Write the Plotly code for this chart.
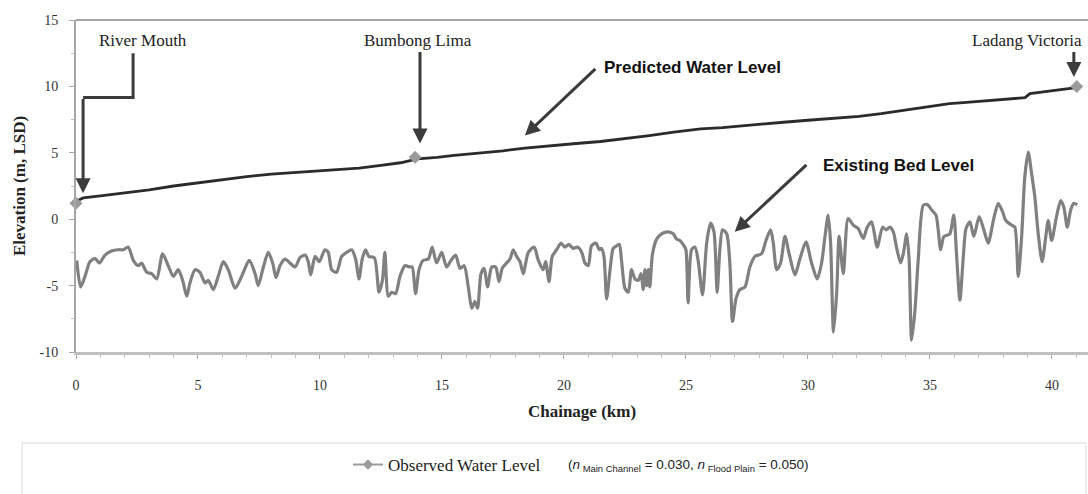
import plotly.graph_objects as go

# Longitudinal profile along the river (chainage in km, elevation in m LSD)
pred_chainage = [0, 0.3, 1, 2, 3, 4, 5, 6, 7, 8, 8.4, 9, 10, 11, 11.6, 12.5, 13.3, 14,
                 14.8, 15.5, 16.5, 17.5, 18.4, 19.5, 20.5, 21.5, 22.7, 23.5, 24.5, 25.6,
                 26.5, 27.2, 28, 29, 30, 31, 32.1, 33, 34, 35, 35.8, 36.5, 37.5, 38.5,
                 38.9, 39.1, 40, 41]
pred_level = [1.35, 1.6, 1.75, 1.95, 2.2, 2.5, 2.75, 3.0, 3.2, 3.4, 3.45, 3.5, 3.65, 3.75,
              3.85, 4.05, 4.25, 4.55, 4.65, 4.8, 4.95, 5.15, 5.35, 5.55, 5.7, 5.85, 6.1,
              6.3, 6.55, 6.8, 6.9, 7.0, 7.1, 7.3, 7.45, 7.6, 7.75, 7.95, 8.2, 8.45, 8.7,
              8.8, 8.95, 9.1, 9.15, 9.45, 9.65, 9.9]

bed_chainage = [0.03, 0.19, 0.37, 0.57, 0.78, 0.96, 1.19, 1.46, 1.73, 1.94, 2.14, 2.35, 2.55,
                2.69, 2.9, 3.1, 3.31, 3.55, 3.78, 3.99, 4.19, 4.37, 4.54, 4.67, 4.88, 5.08,
                5.29, 5.42, 5.63, 5.83, 6.04, 6.24, 6.52, 6.79, 7.1, 7.34, 7.47, 7.68, 7.88,
                8.06, 8.2, 8.36, 8.57, 8.77, 8.98, 9.18, 9.39, 9.52, 9.62, 9.8, 9.97, 10.2,
                10.34, 10.48, 10.68, 10.89, 11.09, 11.3, 11.46, 11.6, 11.73, 11.87, 12.0,
                12.23, 12.42, 12.56, 12.66, 12.8, 12.94, 13.1, 13.28, 13.48, 13.69, 13.78,
                13.92, 14.06, 14.23, 14.44, 14.6, 14.78, 14.99, 15.19, 15.37, 15.56, 15.74,
                15.91, 16.08, 16.22, 16.35, 16.46, 16.6, 16.73, 16.87, 17.04, 17.2, 17.34,
                17.47, 17.65, 17.79, 17.92, 18.06, 18.2, 18.33, 18.54, 18.78, 18.95, 19.15,
                19.25, 19.39, 19.52, 19.7, 19.88, 20.04, 20.2, 20.38, 20.56, 20.73, 20.86,
                21.0, 21.13, 21.31, 21.45, 21.54, 21.64, 21.75, 21.89, 22.02, 22.16, 22.27,
                22.36, 22.5, 22.64, 22.77, 22.91, 23.05, 23.16, 23.25, 23.32, 23.39, 23.46,
                23.52, 23.63, 23.8, 24.0, 24.28, 24.48, 24.62, 24.75, 24.92, 25.0, 25.09,
                25.23, 25.37, 25.5, 25.68, 25.85, 26.01, 26.15, 26.28, 26.39, 26.5, 26.67,
                26.8, 26.91, 27.05, 27.21, 27.42, 27.62, 27.83, 28.1, 28.28, 28.47, 28.58,
                28.72, 28.88, 29.06, 29.23, 29.47, 29.67, 29.92, 30.15, 30.38, 30.56, 30.7,
                30.83, 30.93, 31.05, 31.18, 31.28, 31.45, 31.65, 31.86, 32.06, 32.27, 32.43,
                32.61, 32.84, 33.06, 33.2, 33.36, 33.5, 33.63, 33.8, 33.91, 34.05, 34.15,
                34.25, 34.39, 34.52, 34.73, 34.89, 35.07, 35.25, 35.34, 35.44, 35.57, 35.71,
                35.82, 35.98, 36.09, 36.23, 36.37, 36.48, 36.64, 36.8, 37.02, 37.21, 37.39,
                37.6, 37.8, 37.98, 38.11, 38.35, 38.48, 38.62, 38.76, 38.89, 39.03, 39.17,
                39.3, 39.44, 39.6, 39.75, 39.85, 39.99, 40.19, 40.36, 40.49, 40.63, 40.77,
                40.9, 41.04]
bed_level = [-3.1, -5.1, -4.3, -3.2, -2.96, -3.3, -2.7, -2.4, -2.3, -2.3, -2.1, -3.1, -3.5,
             -3.3, -4.0, -4.1, -4.5, -2.6, -3.5, -4.3, -3.8, -4.6, -5.8, -4.8, -3.8, -4.0,
             -4.8, -4.6, -5.3, -4.3, -3.2, -3.8, -5.2, -4.3, -3.1, -4.1, -5.0, -3.6, -2.5,
             -3.3, -4.4, -3.5, -3.0, -3.3, -3.6, -2.9, -2.7, -3.2, -4.2, -2.8, -3.2, -2.3,
             -2.5, -3.8, -4.0, -2.8, -2.5, -2.3, -3.0, -4.5, -3.0, -2.3, -2.8, -2.9, -5.5,
             -4.6, -2.5, -5.8, -5.5, -5.6, -4.3, -3.5, -3.6, -3.6, -5.6, -3.8, -3.1, -3.0,
             -2.1, -3.3, -2.5, -3.6, -3.1, -2.7, -3.7, -3.5, -5.1, -6.7, -6.2, -6.7, -4.1,
             -3.7, -5.1, -3.6, -3.6, -4.7, -3.7, -3.3, -3.0, -2.3, -2.8, -3.2, -4.1, -2.5,
             -2.1, -3.1, -3.8, -3.2, -4.7, -2.8, -2.3, -1.8, -2.1, -1.9, -2.2, -2.1, -2.5,
             -3.3, -3.5, -2.0, -1.8, -2.3, -2.2, -2.8, -6.0, -3.8, -2.2, -2.0, -1.9, -3.1,
             -5.2, -5.5, -3.8, -4.5, -4.6, -4.1, -5.3, -3.8, -5.0, -3.8, -5.1, -2.6, -1.5,
             -1.1, -0.95, -1.1, -1.5, -1.6, -2.0, -2.3, -6.3, -2.3, -2.1, -3.1, -5.7, -1.8,
             -0.3, -0.95, -5.5, -2.3, -0.8, -1.1, -3.3, -7.7, -6.0, -5.3, -5.1, -3.6, -2.8,
             -2.6, -1.6, -0.8, -1.8, -3.8, -3.3, -1.3, -2.6, -4.2, -3.0, -1.7, -3.3, -4.5,
             -3.3, -1.3, 0.3, -1.8, -8.5, -5.5, -1.3, -4.1, 0.05, -0.45, -0.7, -1.45, -0.6,
             -0.2, -2.1, -0.6, -0.8, -0.6, -0.95, -2.1, -3.3, -2.6, -1.1, -3.1, -9.1, -6.8,
             -3.1, 1.05, 1.1, 0.7, 0.3, -0.8, -2.3, -1.3, -1.2, -1.1, 0.3, -2.6, -6.1, -2.8,
             -0.7, -0.2, -1.3, 0.2, -0.8, -1.8, -0.1, 1.2, 0.55, -0.1, -0.45, -0.6, -4.3,
             -1.3, 3.2, 5.06, 3.4, 1.7, -1.1, -3.2, -1.3, -0.1, -1.6, 0.2, 1.4, 0.9, -0.6,
             0.7, 1.2, 1.1]

obs_chainage = [0.0, 13.9, 41.02]
obs_level = [1.2, 4.66, 10.0]

x_ticks = [0, 5, 10, 15, 20, 25, 30, 35, 40]
y_ticks = [-10, -5, 0, 5, 10, 15]

SERIF = "Liberation Serif"
SANS = "Liberation Sans"
ARROW = "#3c3c3c"
AXIS = "#a6a6a6"

fig = go.Figure()

fig.add_trace(go.Scatter(
    x=bed_chainage, y=bed_level, mode="lines", showlegend=False,
    line=dict(color="#808080", width=3.2, shape="spline", smoothing=0.7),
    name="Existing Bed Level"))

fig.add_trace(go.Scatter(
    x=pred_chainage, y=pred_level, mode="lines", showlegend=False,
    line=dict(color="#2b2b2b", width=2.8), name="Predicted Water Level"))

fig.add_trace(go.Scatter(
    x=obs_chainage, y=obs_level, mode="markers", showlegend=False,
    marker=dict(symbol="diamond", size=10, color="#9a9a9a"),
    name="Observed Water Level", cliponaxis=False))

# legend entry with line + marker, as in the legend key
fig.add_trace(go.Scatter(
    x=[None], y=[None], mode="lines+markers", name="Observed Water Level",
    line=dict(color="#9a9a9a", width=2),
    marker=dict(symbol="diamond", size=8, color="#9a9a9a")))

annotations = []

def label(text, x, y, font, xanchor="center"):
    annotations.append(dict(x=x, y=y, xref="x", yref="y", text=text, showarrow=False,
                            xanchor=xanchor, yanchor="middle", font=font))

def arrow(x0, y0, x1, y1):
    annotations.append(dict(x=x1, y=y1, ax=x0, ay=y0, xref="x", yref="y", axref="x",
                            ayref="y", text="", showarrow=True, arrowhead=2,
                            arrowsize=1.0, arrowwidth=3, arrowcolor=ARROW))

site_font = dict(family=SERIF, size=17, color="#222222")
bold_font = dict(family=SANS, size=17, color="#111111")

label("River Mouth", 2.75, 13.45, site_font)
label("Bumbong Lima", 14.0, 13.45, site_font)
label("Ladang Victoria", 39.0, 13.45, site_font)
label("<b>Predicted Water Level</b>", 21.55, 11.42, bold_font, xanchor="left")
label("<b>Existing Bed Level</b>", 30.55, 4.06, bold_font, xanchor="left")

arrow(0.29, 9.17, 0.29, 1.95)
arrow(14.1, 12.7, 14.1, 5.7)
arrow(40.9, 12.7, 40.9, 10.7)
arrow(21.35, 11.43, 18.4, 6.3)
arrow(30.0, 4.2, 27.0, -0.95)

# Manning's n note next to the legend
annotations.append(dict(
    x=(566 - 76) / 1012, y=(352 - 465) / 332, xref="paper", yref="paper",
    xanchor="left", yanchor="middle", showarrow=False,
    text="(<i>n</i><sub> Main Channel</sub> = 0.030, <i>n</i><sub> Flood Plain</sub> = 0.050)",
    font=dict(family=SANS, size=13.5, color="#222222")))

shapes = [
    # elbow leader for River Mouth
    dict(type="path", xref="x", yref="y",
         path="M 2.34,12.5 L 2.34,9.17 L 0.29,9.17",
         line=dict(color=ARROW, width=3)),
    # legend frame
    dict(type="rect", xref="paper", yref="paper",
         x0=(22 - 76) / 1012, x1=(1086 - 76) / 1012,
         y0=(352 - 443) / 332, y1=(352 - 500) / 332,
         line=dict(color="#d9d9d9", width=1), fillcolor="rgba(0,0,0,0)"),
]

fig.update_layout(
    width=1088, height=494,
    margin=dict(l=76, r=0, t=20, b=142),
    paper_bgcolor="white", plot_bgcolor="white",
    annotations=annotations, shapes=shapes,
    showlegend=True,
    legend=dict(x=(348 - 76) / 1012, y=(352 - 465) / 332, xanchor="left", yanchor="middle",
                orientation="h", bgcolor="rgba(0,0,0,0)",
                font=dict(family=SERIF, size=17, color="#222222")),
    xaxis=dict(range=[0, 41.48], tickvals=x_ticks, ticktext=[str(v) for v in x_ticks],
               showgrid=False, zeroline=False, showline=True, linecolor="#c0c0c0",
               linewidth=3, ticks="outside", ticklen=4, tickcolor=AXIS,
               ticklabelstandoff=14,
               minor=dict(dtick=1, ticks="outside", ticklen=3, tickcolor="#c0c0c0"),
               tickfont=dict(family=SERIF, size=14, color="#333333"),
               title=dict(text="<b>Chainage (km)</b>", standoff=14,
                          font=dict(family=SERIF, size=17, color="#222222"))),
    yaxis=dict(range=[-10, 15], tickvals=y_ticks, ticktext=[str(v) for v in y_ticks],
               showgrid=False, zeroline=False, showline=True, linecolor=AXIS,
               linewidth=2, mirror=False, ticks="outside", ticklen=5, tickcolor=AXIS,
               ticklabelstandoff=8,
               minor=dict(dtick=2.5, ticks="outside", ticklen=3, tickcolor="#c0c0c0"),
               tickfont=dict(family=SERIF, size=14, color="#333333"),
               title=dict(text="<b>Elevation (m, LSD)</b>", standoff=10,
                          font=dict(family=SERIF, size=17, color="#222222"))),
)

# top frame line of the plot area
fig.add_shape(type="line", xref="paper", yref="paper", x0=0, x1=1, y0=1, y1=1,
              line=dict(color=AXIS, width=2))

fig.write_html("out.html")
